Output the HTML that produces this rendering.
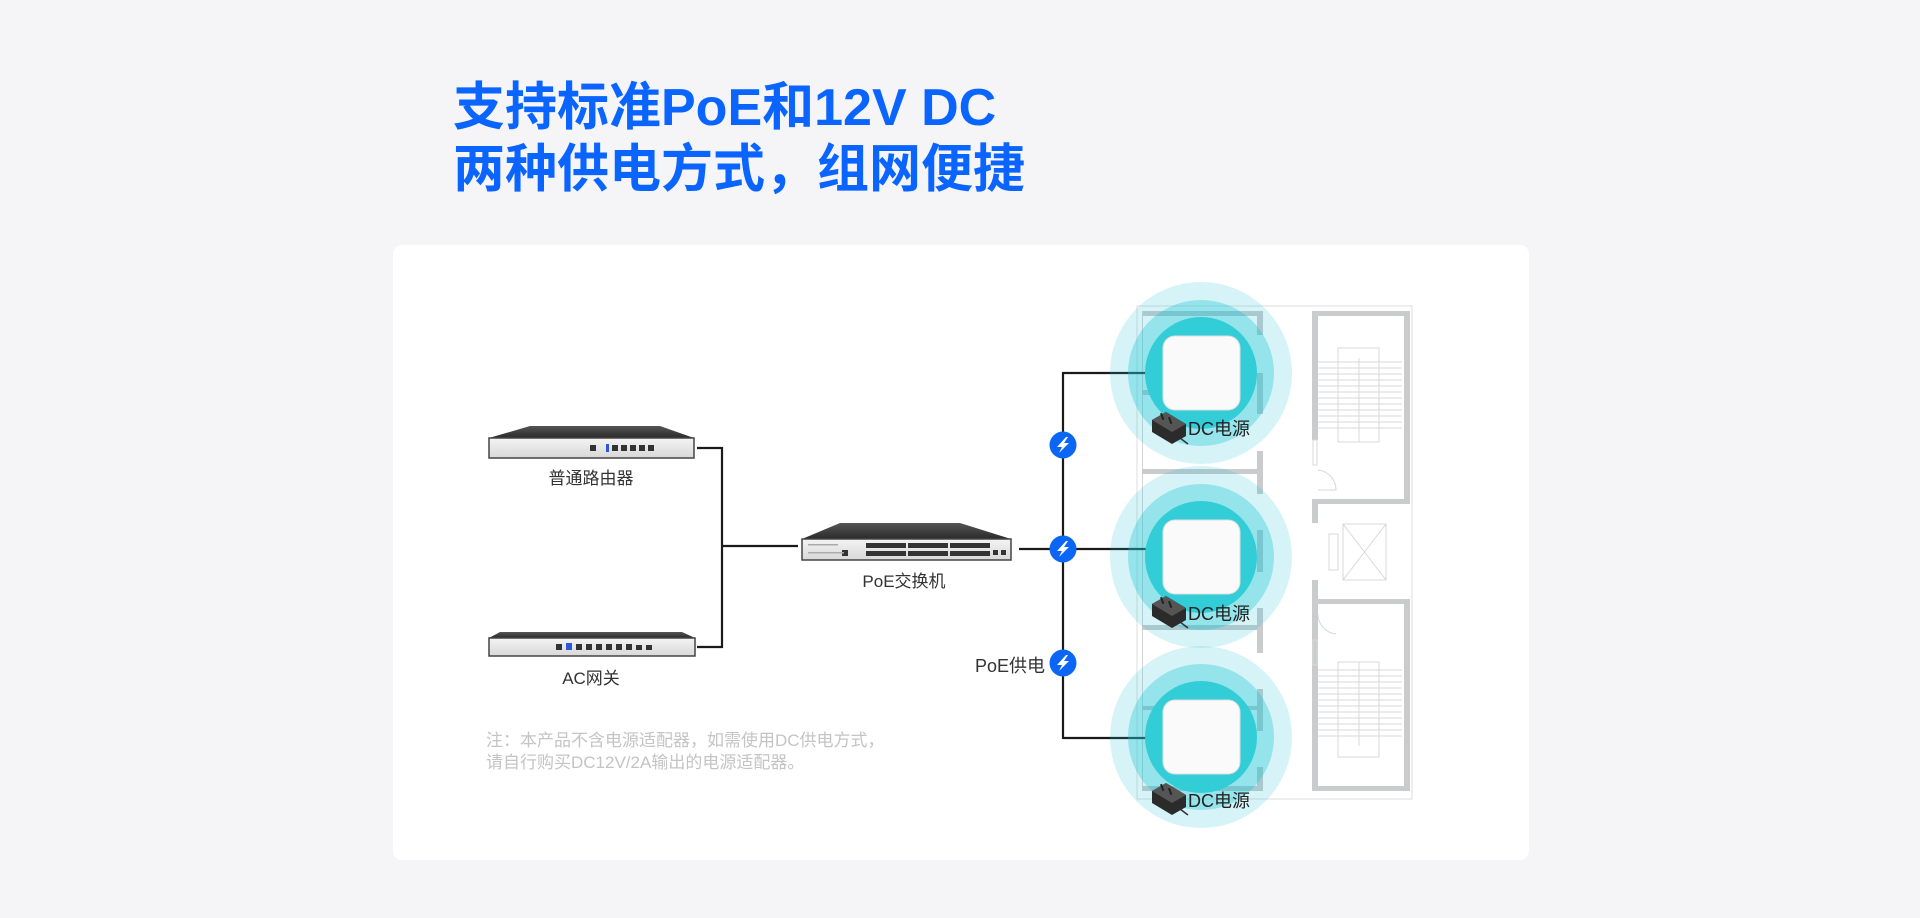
<!DOCTYPE html>
<html><head><meta charset="utf-8"><style>
html,body{margin:0;padding:0;width:1920px;height:918px;overflow:hidden;background:#f5f5f7;}
svg text{font-family:"Liberation Sans","Noto Sans CJK SC",sans-serif;}
</style></head><body>
<svg width="1920" height="918" viewBox="0 0 1920 918" xmlns="http://www.w3.org/2000/svg">
<defs>
<linearGradient id="top" x1="0" y1="0" x2="0" y2="1"><stop offset="0" stop-color="#555"/><stop offset="1" stop-color="#2a2a2a"/></linearGradient>
<linearGradient id="front" x1="0" y1="0" x2="0" y2="1"><stop offset="0" stop-color="#f4f4f4"/><stop offset="1" stop-color="#d8d8d8"/></linearGradient>
<g id="bolt"><circle r="13.5" fill="#0b66f5"/><path d="M3,-8 L-6,2 L-1,2 L-4,8 L6,-2 L1,-2 L5,-8 Z" fill="#fff"/></g>
<g id="adapter"><path d="M0,8 L14,0 L34,12 L34,24 L20,32 L0,20 Z" fill="#2b2b2b"/><path d="M0,8 L14,0 L34,12 L20,20 Z" fill="#555"/><rect x="9" y="1" width="2" height="7" fill="#222" transform="rotate(-20 10 4)"/><rect x="17" y="5" width="2" height="7" fill="#222" transform="rotate(-20 18 8)"/><path d="M28,26 L36,32" stroke="#333" stroke-width="1.5"/></g>
</defs>
<text x="453" y="125" font-size="52" font-weight="bold" fill="#0a64ff">支持标准PoE和12V DC</text>
<text x="453" y="187" font-size="52" font-weight="bold" fill="#0a64ff">两种供电方式，组网便捷</text>
<rect x="393" y="245" width="1136" height="615" rx="9" fill="#fff"/>

<!-- floor plan -->
<g fill="#cacbcd">
<rect x="1137" y="306" width="275" height="493" fill="none" stroke="#dcdcdc" stroke-width="1"/>
<rect x="1142" y="311" width="121" height="5"/>
<rect x="1142" y="311" width="1" height="480" fill="#d5d5d5"/>
<rect x="1257" y="311" width="6" height="24"/><rect x="1257" y="373" width="6" height="41"/><rect x="1257" y="451" width="6" height="43"/><rect x="1257" y="530" width="6" height="42"/><rect x="1257" y="608" width="6" height="45"/><rect x="1257" y="689" width="6" height="42"/><rect x="1257" y="767" width="6" height="24"/>
<rect x="1142" y="469" width="115" height="5"/><rect x="1142" y="625" width="115" height="5"/><rect x="1142" y="390" width="18" height="5"/><rect x="1142" y="786" width="121" height="5"/><rect x="1142" y="706" width="115" height="4"/>
<rect x="1312" y="311" width="6" height="129"/><rect x="1312" y="499" width="6" height="24"/><rect x="1312" y="580" width="6" height="211"/>
<rect x="1404" y="311" width="6" height="192"/><rect x="1404" y="599" width="6" height="192"/>
<rect x="1312" y="311" width="98" height="5"/><rect x="1312" y="499" width="98" height="5"/><rect x="1312" y="599" width="98" height="5"/><rect x="1312" y="786" width="98" height="5"/>
</g>
<g stroke="#d8d8d8" stroke-width="1" fill="none">
<rect x="1338" y="348" width="41" height="94"/><line x1="1359" y1="358" x2="1359" y2="442"/>
<path d="M1318 362H1402M1318 368H1402M1318 374H1402M1318 380H1402M1318 386H1402M1318 392H1402M1318 398H1402M1318 404H1402M1318 410H1402M1318 416H1402M1318 422H1402M1318 428H1402"/>
<rect x="1338" y="662" width="41" height="95"/><line x1="1359" y1="662" x2="1359" y2="746"/>
<path d="M1318 670H1402M1318 676H1402M1318 682H1402M1318 688H1402M1318 694H1402M1318 700H1402M1318 706H1402M1318 712H1402M1318 718H1402M1318 724H1402M1318 730H1402M1318 736H1402"/>
<rect x="1343" y="524" width="43" height="56"/><path d="M1343 524L1386 580M1386 524L1343 580"/><rect x="1329" y="534" width="9" height="36"/>
<path d="M1318 470A20 20 0 0 1 1336 490H1318"/><path d="M1318 614A20 20 0 0 0 1336 634"/>
<rect x="1313" y="440" width="4" height="25"/><rect x="1313" y="640" width="4" height="25"/>
</g>

<!-- connectors -->
<g stroke="#1a1a1a" stroke-width="2.2" fill="none">
<path d="M697 448H722V647H697"/><path d="M722 546H798"/>
<path d="M1019 549H1063"/><path d="M1063 372V739"/>
<path d="M1063 373H1152M1063 549H1152M1063 738H1152"/>
</g>

<!-- APs -->
<g>
<circle cx="1201" cy="373" r="91" fill="#1cc4d3" fill-opacity="0.18"/><circle cx="1201" cy="373" r="73" fill="#1cc4d3" fill-opacity="0.35"/><circle cx="1201" cy="373" r="56" fill="#33cdd8"/>
<rect x="1163" y="336" width="77" height="74" rx="12" fill="#fafafa" stroke="#ddd"/>
<circle cx="1201" cy="557" r="91" fill="#1cc4d3" fill-opacity="0.18"/><circle cx="1201" cy="557" r="73" fill="#1cc4d3" fill-opacity="0.35"/><circle cx="1201" cy="557" r="56" fill="#33cdd8"/>
<rect x="1163" y="520" width="77" height="74" rx="12" fill="#fafafa" stroke="#ddd"/>
<circle cx="1201" cy="737" r="91" fill="#1cc4d3" fill-opacity="0.18"/><circle cx="1201" cy="737" r="73" fill="#1cc4d3" fill-opacity="0.35"/><circle cx="1201" cy="737" r="56" fill="#33cdd8"/>
<rect x="1163" y="700" width="77" height="74" rx="12" fill="#fafafa" stroke="#ddd"/>
</g>
<use href="#adapter" x="1152" y="412"/><use href="#adapter" x="1152" y="596"/><use href="#adapter" x="1152" y="783"/>
<g font-size="18" fill="#222"><text x="1188" y="435">DC电源</text><text x="1188" y="620">DC电源</text><text x="1188" y="807">DC电源</text></g>

<use href="#bolt" x="1063" y="445"/><use href="#bolt" x="1063" y="549"/><use href="#bolt" x="1063" y="663"/>
<text x="1045" y="672" font-size="18" fill="#333" text-anchor="end">PoE供电</text>

<!-- router -->
<path d="M530 426H660L694 438H489Z" fill="url(#top)"/>
<rect x="489" y="438" width="205" height="20" fill="url(#front)" stroke="#444" stroke-width="1.5"/>
<g fill="#333"><rect x="590" y="445" width="6" height="6"/><rect x="606" y="444" width="3" height="8" fill="#2a5ad8"/><rect x="612" y="445" width="6" height="6"/><rect x="621" y="445" width="6" height="6"/><rect x="630" y="445" width="6" height="6"/><rect x="639" y="445" width="6" height="6"/><rect x="648" y="445" width="6" height="6"/></g>
<text x="591" y="484" font-size="17" fill="#333" text-anchor="middle">普通路由器</text>
<!-- AC -->
<path d="M500 632H682L695 638H489Z" fill="url(#top)"/>
<rect x="489" y="638" width="206" height="18" fill="url(#front)" stroke="#444" stroke-width="1.5"/>
<g fill="#333"><rect x="556" y="644" width="6" height="6"/><rect x="566" y="643" width="6" height="7" fill="#2a5ad8"/><rect x="576" y="644" width="6" height="6"/><rect x="586" y="644" width="6" height="6"/><rect x="596" y="644" width="6" height="6"/><rect x="606" y="644" width="6" height="6"/><rect x="616" y="644" width="6" height="6"/><rect x="626" y="644" width="6" height="6"/><rect x="636" y="645" width="6" height="5"/><rect x="646" y="645" width="6" height="5"/></g>
<text x="591" y="684" font-size="17" fill="#333" text-anchor="middle">AC网关</text>
<!-- switch -->
<path d="M840 523H960L1011 539H802Z" fill="url(#top)"/>
<rect x="802" y="539" width="209" height="21" fill="url(#front)" stroke="#444" stroke-width="1.5"/>
<g fill="#333">
<rect x="866" y="543" width="40" height="5"/><rect x="866" y="551" width="40" height="5"/>
<rect x="908" y="543" width="40" height="5"/><rect x="908" y="551" width="40" height="5"/>
<rect x="950" y="543" width="40" height="5"/><rect x="950" y="551" width="40" height="5"/>
<rect x="842" y="550" width="6" height="6"/><rect x="993" y="550" width="5" height="5"/><rect x="1001" y="550" width="5" height="5"/>
</g>
<g fill="#aaa"><rect x="808" y="544" width="30" height="1.5"/><rect x="808" y="552" width="36" height="1.5"/></g>
<text x="904" y="587" font-size="17" fill="#333" text-anchor="middle">PoE交换机</text>

<text x="486" y="746" font-size="17" fill="#c4c4c4">注：本产品不含电源适配器，如需使用DC供电方式，</text>
<text x="486" y="768" font-size="17" fill="#c4c4c4">请自行购买DC12V/2A输出的电源适配器。</text>
</svg>
</body></html>
